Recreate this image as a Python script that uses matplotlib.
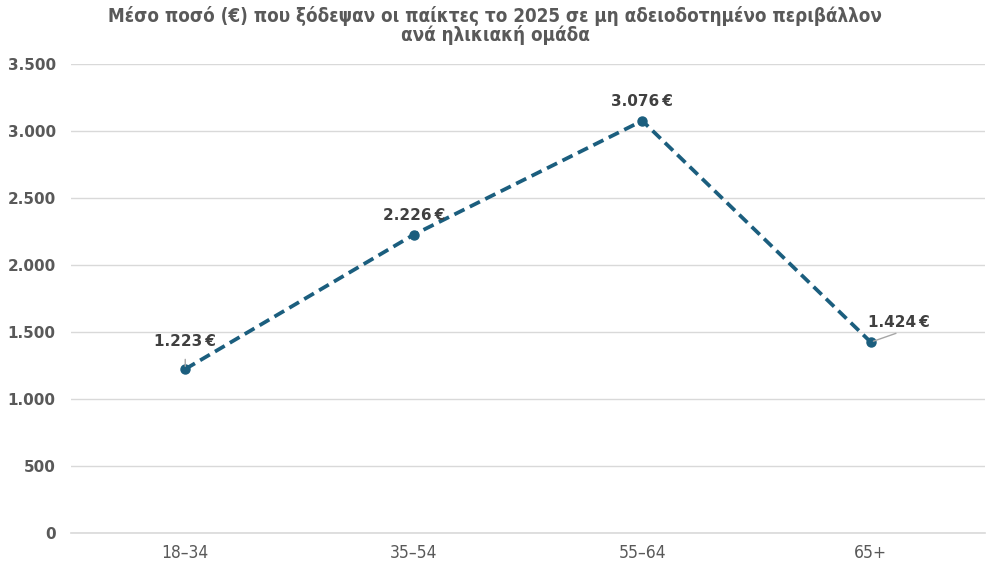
import numpy as np
import matplotlib.pyplot as plt

# data
age_groups = ['18–34', '35–54', '55–64', '65+']
avg_spend = [1223, 2226, 3076, 1424]
value_labels = ['1.223\u2009€', '2.226\u2009€', '3.076\u2009€', '1.424\u2009€']
y_ticks = [0, 500, 1000, 1500, 2000, 2500, 3000, 3500]

title = ('Μέσο ποσό (€) που ξόδεψαν οι παίκτες το 2025 σε μη αδειοδοτημένο περιβάλλον\n'
         'ανά ηλικιακή ομάδα')

line_color = '#1b5e7e'
grey = '#595959'

fig = plt.figure(figsize=(9.9, 5.7), dpi=100)
ax = fig.add_axes([0.0717, 0.065, 0.9233, 0.8228])

x = np.arange(len(age_groups))
ax.plot(x, avg_spend, color=line_color, linestyle=(0, (3, 1.6)), linewidth=2.7,
        marker='o', markersize=6.5, zorder=3)

# value labels (offsets in points)
offsets = [(0, 20), (0, 14), (0, 14), (20, 14)]
for xi, yi, lab, off in zip(x, avg_spend, value_labels, offsets):
    ax.annotate(lab, (xi, yi), xytext=off, textcoords='offset points',
                ha='center', va='center', fontsize=11, fontweight='bold',
                color='#404040', family='DejaVu Sans')

# small leader lines like in the original
ax.annotate('', (x[0], avg_spend[0]), xytext=(0, 9), textcoords='offset points',
            arrowprops=dict(arrowstyle='-', color='#a6a6a6', lw=1))
ax.annotate('', (x[3], avg_spend[3]), xytext=(20, 7), textcoords='offset points',
            arrowprops=dict(arrowstyle='-', color='#a6a6a6', lw=1))

ax.set_xlim(-0.5, 3.5)
ax.set_ylim(0, 3500)
ax.set_yticks(y_ticks)
ax.set_yticklabels([f'{v:,}'.replace(',', '.') for v in y_ticks])
ax.set_xticks(x)
ax.set_xticklabels(age_groups)

ax.grid(axis='y', color='#d9d9d9', linewidth=1)
ax.axhline(0, color='#d9d9d9', linewidth=1.2, clip_on=False, zorder=1)
ax.set_axisbelow(True)
for s in ax.spines.values():
    s.set_visible(False)
ax.tick_params(length=0)
ax.tick_params(axis='y', pad=11)
ax.tick_params(axis='x', pad=8)
for t in ax.get_yticklabels():
    t.set_fontweight('bold')
    t.set_color(grey)
    t.set_fontsize(11)
    t.set_family('DejaVu Sans')
for t in ax.get_xticklabels():
    t.set_color(grey)
    t.set_fontsize(12.5)
    t.set_family('DejaVu Sans')
    t.set_stretch('condensed')

fig.text(0.5, 0.99, title, ha='center', va='top', fontsize=13.5,
         fontweight='bold', color=grey, family='DejaVu Sans',
         stretch='condensed', linespacing=0.95)

fig.savefig('out.png', dpi=100)
